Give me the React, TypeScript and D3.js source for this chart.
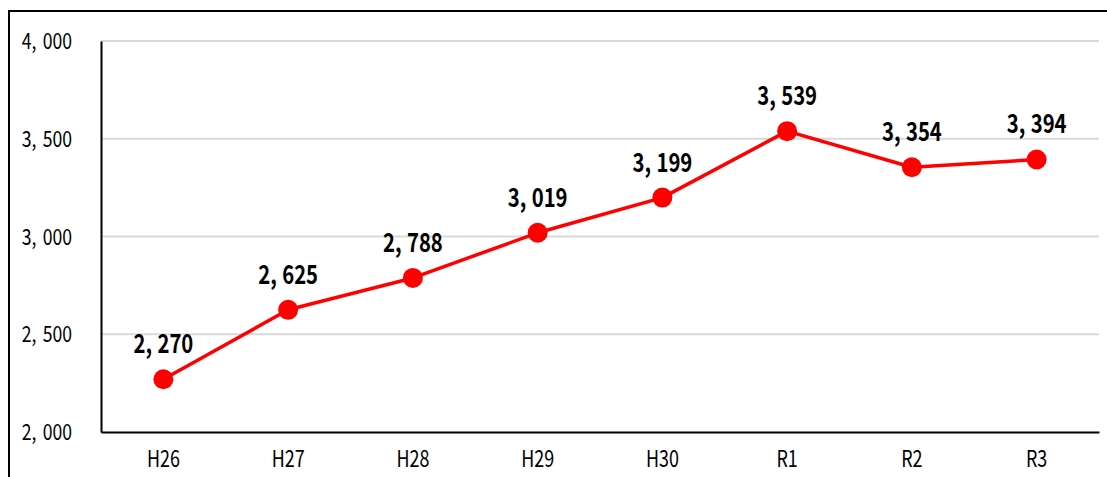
import { axisBottom, axisLeft, format, line, scaleBand, scaleLinear, select } from 'd3';
import { useEffect, useRef } from 'react';

const categories = ['H26', 'H27', 'H28', 'H29', 'H30', 'R1', 'R2', 'R3'];
const values = [2270, 2625, 2788, 3019, 3199, 3539, 3354, 3394];
const yTicks = [2000, 2500, 3000, 3500, 4000];

const FONT = '"Noto Sans CJK JP", "Noto Sans", sans-serif';

function App(): JSX.Element {
  const svgRef = useRef<SVGSVGElement | null>(null);

  const width = 1107;
  const height = 477;
  const margin = { top: 41, right: 8, bottom: 45, left: 101 };

  useEffect(() => {
    if (svgRef.current) svgRef.current.innerHTML = '';
    const svg = select(svgRef.current);
    svg.attr('width', width).attr('height', height);

    // outer frame (cut off at right and bottom)
    svg
      .append('rect')
      .attr('x', 9)
      .attr('y', 11)
      .attr('width', 1300)
      .attr('height', 700)
      .attr('fill', 'none')
      .attr('stroke', '#000')
      .attr('stroke-width', 2);

    const x = scaleBand<string>()
      .domain(categories)
      .range([margin.left, width - margin.right]);
    const y = scaleLinear()
      .domain([2000, 4000])
      .range([height - margin.bottom, margin.top]);

    const comma = format(',');

    // gridlines
    svg
      .append('g')
      .selectAll('line')
      .data(yTicks.filter((t) => t > 2000))
      .enter()
      .append('line')
      .attr('x1', margin.left)
      .attr('x2', width - margin.right)
      .attr('y1', (d) => y(d))
      .attr('y2', (d) => y(d))
      .attr('stroke', '#d9d9d9')
      .attr('stroke-width', 2);

    // y axis
    const gy = svg
      .append('g')
      .attr('transform', `translate(${margin.left},0)`)
      .call(axisLeft(y).tickValues(yTicks).tickSize(0).tickFormat(() => ''));
    gy.select('.domain').attr('stroke', '#000').attr('stroke-width', 2);

    // y tick labels
    yTicks.forEach((t) => {
      const [head, tail] = comma(t).split(',');
      const txt = svg
        .append('text')
        .attr('transform', `translate(72,${y(t) + 8}) scale(0.8,1)`)
        .attr('text-anchor', 'end')
        .attr('font-family', FONT)
        .attr('font-size', 22)
        .attr('fill', '#000');
      txt.append('tspan').text(`${head},`);
      txt.append('tspan').attr('dx', 8).text(tail);
    });

    // x axis
    const gx = svg
      .append('g')
      .attr('transform', `translate(0,${height - margin.bottom})`)
      .call(axisBottom(x).tickSize(0).tickFormat(() => ''));
    gx.select('.domain').attr('stroke', '#000').attr('stroke-width', 2);

    categories.forEach((c) => {
      const cx = (x(c) ?? 0) + x.bandwidth() / 2;
      svg
        .append('text')
        .attr('transform', `translate(${cx},467) scale(0.78,1)`)
        .attr('text-anchor', 'middle')
        .attr('font-family', FONT)
        .attr('font-size', 23)
        .attr('fill', '#000')
        .text(c);
    });

    const pts = values.map((v, i) => ({
      x: (x(categories[i]) ?? 0) + x.bandwidth() / 2,
      y: y(v),
      v
    }));

    const lineGen = line<{ x: number; y: number }>()
      .x((d) => d.x)
      .y((d) => d.y);

    svg
      .append('path')
      .datum(pts)
      .attr('d', lineGen)
      .attr('fill', 'none')
      .attr('stroke', '#ff0000')
      .attr('stroke-width', 3.5)
      .attr('stroke-linejoin', 'round');

    svg
      .append('g')
      .selectAll('circle')
      .data(pts)
      .enter()
      .append('circle')
      .attr('cx', (d) => d.x)
      .attr('cy', (d) => d.y)
      .attr('r', 10)
      .attr('fill', '#ff0000');

    // data labels
    pts.forEach((p) => {
      const [head, tail] = comma(p.v).split(',');
      const txt = svg
        .append('text')
        .attr('transform', `translate(${p.x},${p.y - 26}) scale(0.78,1)`)
        .attr('text-anchor', 'middle')
        .attr('font-family', FONT)
        .attr('font-size', 26)
        .attr('font-weight', 'bold')
        .attr('fill', '#000');
      txt.append('tspan').text(`${head},`);
      txt.append('tspan').attr('dx', 7).text(tail);
    });
  }, []);

  return (
    <div style={{ position: 'absolute', left: 0, top: 0 }}>
      <svg ref={svgRef} style={{ display: 'block', overflow: 'hidden' }} />
    </div>
  );
}

export default App;
